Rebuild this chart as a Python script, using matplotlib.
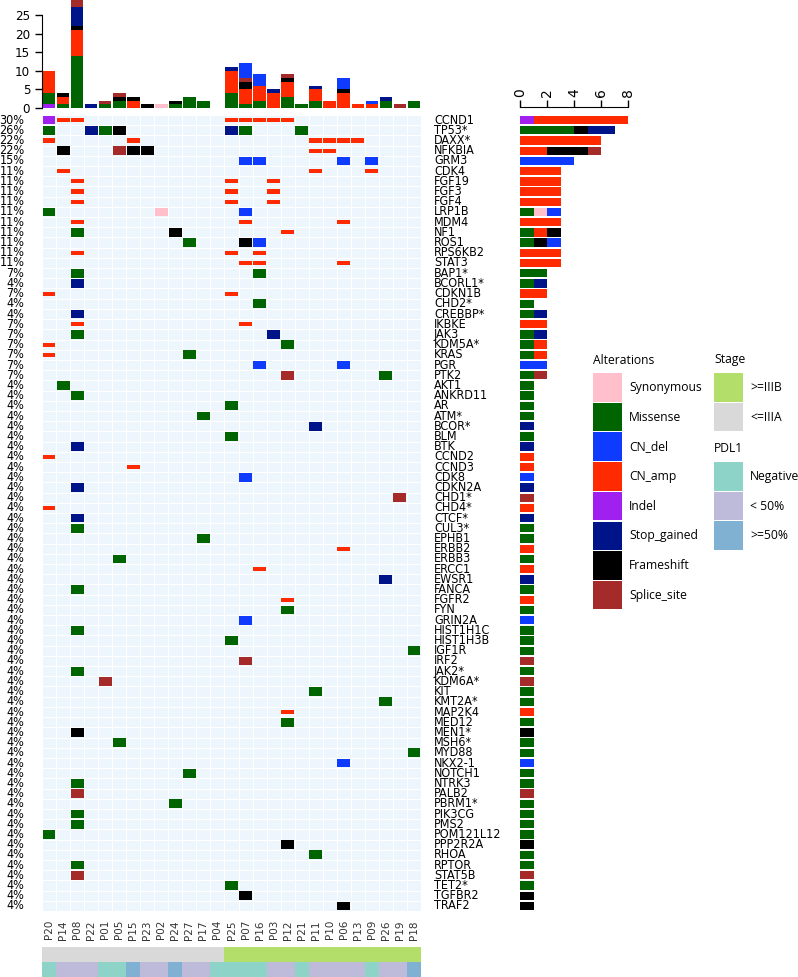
import numpy as np
import matplotlib
matplotlib.use('Agg')
import matplotlib.pyplot as plt
from matplotlib.patches import Rectangle
from matplotlib.colors import ListedColormap
from matplotlib.font_manager import FontProperties

samples = ['P20', 'P14', 'P08', 'P22', 'P01', 'P05', 'P15', 'P23', 'P02', 'P24', 'P27', 'P17', 'P04',
           'P25', 'P07', 'P16', 'P03', 'P12', 'P21', 'P11', 'P10', 'P06', 'P13', 'P09', 'P26', 'P19', 'P18']

genes = ['CCND1', 'TP53*', 'DAXX*', 'NFKBIA', 'GRM3', 'CDK4', 'FGF19', 'FGF3', 'FGF4', 'LRP1B', 'MDM4',
         'NF1', 'ROS1', 'RPS6KB2', 'STAT3', 'BAP1*', 'BCORL1*', 'CDKN1B', 'CHD2*', 'CREBBP*', 'IKBKE',
         'JAK3', 'KDM5A*', 'KRAS', 'PGR', 'PTK2', 'AKT1', 'ANKRD11', 'AR', 'ATM*', 'BCOR*', 'BLM', 'BTK',
         'CCND2', 'CCND3', 'CDK8', 'CDKN2A', 'CHD1*', 'CHD4*', 'CTCF*', 'CUL3*', 'EPHB1', 'ERBB2', 'ERBB3',
         'ERCC1', 'EWSR1', 'FANCA', 'FGFR2', 'FYN', 'GRIN2A', 'HIST1H1C', 'HIST1H3B', 'IGF1R', 'IRF2',
         'JAK2*', 'KDM6A*', 'KIT', 'KMT2A*', 'MAP2K4', 'MED12', 'MEN1*', 'MSH6*', 'MYD88', 'NKX2-1',
         'NOTCH1', 'NTRK3', 'PALB2', 'PBRM1*', 'PIK3CG', 'PMS2', 'POM121L12', 'PPP2R2A', 'RHOA', 'RPTOR',
         'STAT5B', 'TET2*', 'TGFBR2', 'TRAF2']

stage = ['<=IIIA'] * 13 + ['>=IIIB'] * 14
pdl1 = ['Negative', '<50%', '<50%', '<50%', 'Negative', 'Negative', '>=50%', '<50%', '<50%', '>=50%',
        '<50%', '<50%', 'Negative', 'Negative', 'Negative', 'Negative', '<50%', '<50%', 'Negative',
        '<50%', '<50%', '<50%', '<50%', 'Negative', '<50%', '<50%', '>=50%']

# alterations as (gene, sample)
indel = [('CCND1', 'P20')]
synonymous = [('LRP1B', 'P02')]
missense = [('TP53*', 'P20'), ('TP53*', 'P01'), ('TP53*', 'P07'), ('TP53*', 'P21'), ('LRP1B', 'P20'),
            ('NF1', 'P08'), ('ROS1', 'P27'), ('BAP1*', 'P08'), ('BAP1*', 'P16'), ('BCORL1*', 'P08'),
            ('CHD2*', 'P16'), ('CREBBP*', 'P08'), ('JAK3', 'P08'), ('KDM5A*', 'P12'), ('KRAS', 'P27'),
            ('PTK2', 'P26'), ('AKT1', 'P14'), ('ANKRD11', 'P08'), ('AR', 'P25'), ('ATM*', 'P17'),
            ('BLM', 'P25'), ('CUL3*', 'P08'), ('EPHB1', 'P17'), ('ERBB3', 'P05'), ('FANCA', 'P08'),
            ('FYN', 'P12'), ('HIST1H1C', 'P08'), ('HIST1H3B', 'P25'), ('IGF1R', 'P18'), ('JAK2*', 'P08'),
            ('KIT', 'P11'), ('KMT2A*', 'P26'), ('MED12', 'P12'), ('MSH6*', 'P05'), ('MYD88', 'P18'),
            ('NOTCH1', 'P27'), ('NTRK3', 'P08'), ('PBRM1*', 'P24'), ('PIK3CG', 'P08'), ('PMS2', 'P08'),
            ('POM121L12', 'P20'), ('RHOA', 'P11'), ('RPTOR', 'P08'), ('TET2*', 'P25')]
cn_amp = [('CCND1', 'P14'), ('CCND1', 'P08'), ('CCND1', 'P25'), ('CCND1', 'P07'), ('CCND1', 'P16'),
          ('CCND1', 'P03'), ('CCND1', 'P12'), ('DAXX*', 'P20'), ('DAXX*', 'P15'), ('DAXX*', 'P11'),
          ('DAXX*', 'P10'), ('DAXX*', 'P06'), ('DAXX*', 'P13'), ('NFKBIA', 'P11'), ('NFKBIA', 'P10'),
          ('CDK4', 'P14'), ('CDK4', 'P11'), ('CDK4', 'P09'), ('FGF19', 'P08'), ('FGF19', 'P25'),
          ('FGF19', 'P03'), ('FGF3', 'P08'), ('FGF3', 'P25'), ('FGF3', 'P03'), ('FGF4', 'P08'),
          ('FGF4', 'P25'), ('FGF4', 'P03'), ('MDM4', 'P08'), ('MDM4', 'P07'), ('MDM4', 'P06'),
          ('NF1', 'P12'), ('RPS6KB2', 'P08'), ('RPS6KB2', 'P25'), ('RPS6KB2', 'P16'), ('STAT3', 'P07'),
          ('STAT3', 'P16'), ('STAT3', 'P06'), ('CDKN1B', 'P20'), ('CDKN1B', 'P25'), ('IKBKE', 'P08'),
          ('IKBKE', 'P07'), ('KDM5A*', 'P20'), ('KRAS', 'P20'), ('CCND2', 'P20'), ('CCND3', 'P15'),
          ('CHD4*', 'P20'), ('ERBB2', 'P06'), ('ERCC1', 'P16'), ('FGFR2', 'P12'), ('MAP2K4', 'P12')]
cn_del = [('GRM3', 'P07'), ('GRM3', 'P16'), ('GRM3', 'P06'), ('GRM3', 'P09'), ('LRP1B', 'P07'),
          ('ROS1', 'P16'), ('PGR', 'P16'), ('PGR', 'P06'), ('CDK8', 'P07'), ('GRIN2A', 'P07'),
          ('NKX2-1', 'P06')]
stop_gained = [('TP53*', 'P22'), ('TP53*', 'P25'), ('BCORL1*', 'P08'), ('CREBBP*', 'P08'), ('JAK3', 'P03'),
               ('BCOR*', 'P11'), ('BTK', 'P08'), ('CDKN2A', 'P08'), ('CTCF*', 'P08'), ('EWSR1', 'P26')]
frameshift = [('TP53*', 'P05'), ('NFKBIA', 'P14'), ('NFKBIA', 'P15'), ('NFKBIA', 'P23'), ('NF1', 'P24'),
              ('ROS1', 'P07'), ('MEN1*', 'P08'), ('PPP2R2A', 'P12'), ('TGFBR2', 'P07'), ('TRAF2', 'P06')]
splice_site = [('NFKBIA', 'P05'), ('PTK2', 'P12'), ('CHD1*', 'P19'), ('IRF2', 'P07'), ('KDM6A*', 'P01'),
               ('PALB2', 'P08'), ('STAT5B', 'P08')]

alts = {'Synonymous': synonymous, 'Missense': missense, 'CN_del': cn_del, 'CN_amp': cn_amp,
        'Indel': indel, 'Stop_gained': stop_gained, 'Frameshift': frameshift, 'Splice_site': splice_site}
alt_colors = {'Synonymous': '#FFC0CB', 'Missense': '#006400', 'CN_del': '#0F3BFF', 'CN_amp': '#FF2A00',
              'Indel': '#A020F0', 'Stop_gained': '#001489', 'Frameshift': '#000000', 'Splice_site': '#A52A2A'}
stage_colors = {'>=IIIB': '#B3DE69', '<=IIIA': '#D9D9D9'}
pdl1_colors = {'Negative': '#8DD3C7', '< 50%': '#BEBADA', '>=50%': '#80B1D3'}
pdl1_key = {'Negative': 'Negative', '<50%': '< 50%', '>=50%': '>=50%'}

stack_order = ['Indel', 'Missense', 'Synonymous', 'CN_amp', 'Frameshift', 'Stop_gained', 'Splice_site', 'CN_del']
draw_order = ['Missense', 'Synonymous', 'Indel', 'CN_del', 'Splice_site', 'Frameshift', 'Stop_gained', 'CN_amp']

ns, ng = len(samples), len(genes)
counts = {t: np.zeros((ng, ns)) for t in alts}
for t, lst in alts.items():
    for g, s in lst:
        counts[t][genes.index(g), samples.index(s)] += 1
altered = sum(counts.values()) > 0
pct = altered.sum(axis=1) / ns * 100

W, H = 798, 977
def rect(x0, y0, x1, y1):
    return [x0 / W, 1 - y1 / H, (x1 - x0) / W, (y1 - y0) / H]

plt.rcParams['font.family'] = 'DejaVu Sans'
lab_font = FontProperties(family='DejaVu Sans', stretch='condensed', size=9)
tick_font = FontProperties(family='DejaVu Sans', stretch='condensed', size=9.5)
leg_font = FontProperties(family='Open Sans', size=8.7)

fig = plt.figure(figsize=(W / 100, H / 100), dpi=100)

# top stacked bars per sample
axt = fig.add_axes(rect(42, 0, 421, 108))
bottom = np.zeros(ns)
x = np.arange(ns) + 0.5
for t in stack_order:
    v = counts[t].sum(axis=0)
    axt.bar(x, v, bottom=bottom, width=0.9, color=alt_colors[t], linewidth=0)
    bottom += v
axt.set_xlim(0, ns)
axt.set_ylim(0, 29)
axt.set_yticks([0, 5, 10, 15, 20, 25])
axt.tick_params(axis='y', length=5, width=1)
for lb in axt.get_yticklabels():
    lb.set_fontproperties(tick_font)
axt.set_xticks([])
for sp in ['top', 'right', 'bottom']:
    axt.spines[sp].set_visible(False)
axt.spines['left'].set_bounds(0, 25)
axt.patch.set_alpha(0)

# oncoprint matrix
ax = fig.add_axes(rect(42, 115, 421, 911))
ax.pcolormesh(np.arange(ns + 1), np.arange(ng + 1), np.zeros((ng, ns)),
              cmap=ListedColormap(['#EDF5FD']), edgecolors='white', linewidth=0.7)
for t in draw_order:
    for g, s in alts[t]:
        r, c = genes.index(g), samples.index(s)
        h = 0.4 if t == 'CN_amp' else 0.86
        ax.add_patch(Rectangle((c + 0.04, r + 0.5 - h / 2), 0.92, h, facecolor=alt_colors[t], linewidth=0))
ax.set_xlim(0, ns)
ax.set_ylim(ng, 0)
ax.axis('off')
for r, g in enumerate(genes):
    ax.text(27.93, r + 0.5, g, ha='left', va='center', fontproperties=lab_font, clip_on=False)
    ax.text(-1.25, r + 0.5, '%d%%' % round(pct[r]), ha='right', va='center', fontproperties=lab_font,
            clip_on=False)

# per-gene bars on the right
axr = fig.add_axes(rect(520, 115, 628, 911))
left = np.zeros(ng)
y = np.arange(ng) + 0.5
for t in stack_order:
    v = counts[t].sum(axis=1)
    axr.barh(y, v, left=left, height=0.82, color=alt_colors[t], linewidth=0)
    left += v
axr.set_xlim(0, 8)
axr.set_ylim(ng, 0)
axr.set_yticks([])
axr.xaxis.tick_top()
axr.set_xticks([0, 2, 4, 6, 8])
axr.tick_params(axis='x', length=5, width=1, labelrotation=90, pad=2)
for lb in axr.get_xticklabels():
    lb.set_fontproperties(tick_font)
for sp in ['bottom', 'left', 'right']:
    axr.spines[sp].set_visible(False)
axr.spines['top'].set_position(('outward', 6))
axr.spines['top'].set_bounds(0, 8)
axr.patch.set_alpha(0)

# sample names
for c, s in enumerate(samples):
    fig.text((42 + (c + 0.5) * 379 / ns) / W, 1 - 920 / H, s, rotation=90, ha='center', va='top',
             fontsize=7.5, color='#333333')

# stage and PDL1 annotation bars
axs = fig.add_axes(rect(42, 947, 421, 962))
axs.bar(x, np.ones(ns), width=1, color=[stage_colors[v] for v in stage], linewidth=0)
axs.set_xlim(0, ns); axs.set_ylim(0, 1); axs.axis('off')
axp = fig.add_axes(rect(42, 962, 421, 977))
axp.bar(x, np.ones(ns), width=1, color=[pdl1_colors[pdl1_key[v]] for v in pdl1], linewidth=0)
axp.set_xlim(0, ns); axp.set_ylim(0, 1); axp.axis('off')

# legends
axl = fig.add_axes([0, 0, 1, 1])
axl.set_xlim(0, W); axl.set_ylim(H, 0); axl.axis('off')

def legend_block(title, x0, y0, items):
    axl.text(x0, y0, title, ha='left', va='center', fontproperties=leg_font)
    for i, (lab, col) in enumerate(items):
        top = y0 + 13 + i * 29.7
        axl.add_patch(Rectangle((x0, top), 29, 28.5, facecolor=col, linewidth=0))
        axl.text(x0 + 36, top + 14.5, lab, ha='left', va='center', fontproperties=leg_font)

legend_block('Alterations', 593, 360, [(k, alt_colors[k]) for k in alts])
legend_block('Stage', 714, 360, list(stage_colors.items()))
legend_block('PDL1', 714, 449, list(pdl1_colors.items()))

fig.savefig('out.png', dpi=100)
